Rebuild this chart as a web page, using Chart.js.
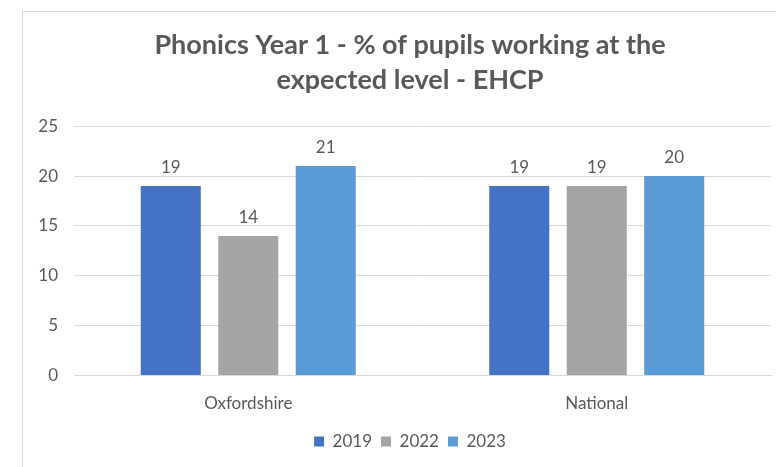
<!DOCTYPE html>
<html>
<head>
<meta charset="utf-8">
<script src="https://cdn.jsdelivr.net/npm/chart.js@4"></script>
<style>
  html, body { margin: 0; padding: 0; background: #fff; overflow: hidden; width: 776px; height: 467px; }
  #frame { position: absolute; left: 22px; top: 11px; width: 790px; height: 470px; border: 1px solid #d9d9d9; box-sizing: border-box; }
  #wrap { position: absolute; left: 22px; top: 11px; width: 776px; height: 456px; }
</style>
</head>
<body>
<div id="frame"></div>
<div id="wrap"><canvas id="c"></canvas></div>
<script>
const categories = ["Oxfordshire", "National"];
const seriesNames = ["2019", "2022", "2023"];
const values2019 = [19, 19];
const values2022 = [14, 19];
const values2023 = [21, 20];
const yTicks = [0, 5, 10, 15, 20, 25];
const titleLines = ["Phonics Year 1 - % of pupils working at the", "expected level - EHCP"];

const FONT = "Lato, 'Open Sans', sans-serif";
const TXT = "#595959";

const valueLabels = {
  id: "valueLabels",
  afterDatasetsDraw(chart) {
    const ctx = chart.ctx;
    ctx.save();
    ctx.font = "17px " + FONT;
    ctx.fillStyle = TXT;
    ctx.textAlign = "center";
    ctx.textBaseline = "bottom";
    chart.data.datasets.forEach((ds, i) => {
      chart.getDatasetMeta(i).data.forEach((bar, j) => {
        ctx.fillText(String(ds.data[j]), bar.x, bar.y - 10);
      });
    });
    ctx.restore();
  }
};

new Chart(document.getElementById("c"), {
  type: "bar",
  data: {
    labels: categories,
    datasets: [
      { label: seriesNames[0], data: values2019, backgroundColor: "#4472C4" },
      { label: seriesNames[1], data: values2022, backgroundColor: "#A5A5A5" },
      { label: seriesNames[2], data: values2023, backgroundColor: "#5B9BD5" }
    ]
  },
  options: {
    responsive: true,
    maintainAspectRatio: false,
    animation: false,
    datasets: { bar: { barPercentage: 0.775, categoryPercentage: 0.667 } },
    layout: { padding: { left: 0, right: 0, top: 0, bottom: 7 } },
    plugins: {
      title: {
        display: true,
        text: titleLines,
        color: TXT,
        font: { family: FONT, size: 27, weight: "bold", lineHeight: 1.3 },
        padding: { top: 17, bottom: 28 }
      },
      legend: {
        position: "bottom",
        labels: {
          color: TXT,
          font: { family: FONT, size: 17 },
          boxWidth: 10,
          boxHeight: 10,
          padding: 9
        }
      },
      tooltip: { enabled: false }
    },
    scales: {
      x: {
        grid: { display: false },
        border: { display: true, color: "#d9d9d9" },
        ticks: { color: TXT, font: { family: FONT, size: 17 }, padding: 10 }
      },
      y: {
        min: 0,
        max: 25,
        afterFit(scale) { scale.width = 52; },
        afterBuildTicks(scale) { scale.ticks = yTicks.map(v => ({ value: v })); },
        grid: { color: "#d9d9d9", drawTicks: false },
        border: { display: false },
        ticks: { color: TXT, font: { family: FONT, size: 17 }, padding: 16 }
      },
      yRight: {
        position: "right",
        min: 0,
        max: 25,
        afterFit(scale) { scale.width = 27; },
        grid: { display: false },
        border: { display: false },
        ticks: { display: false }
      }
    }
  },
  plugins: [valueLabels]
});
</script>
</body>
</html>
